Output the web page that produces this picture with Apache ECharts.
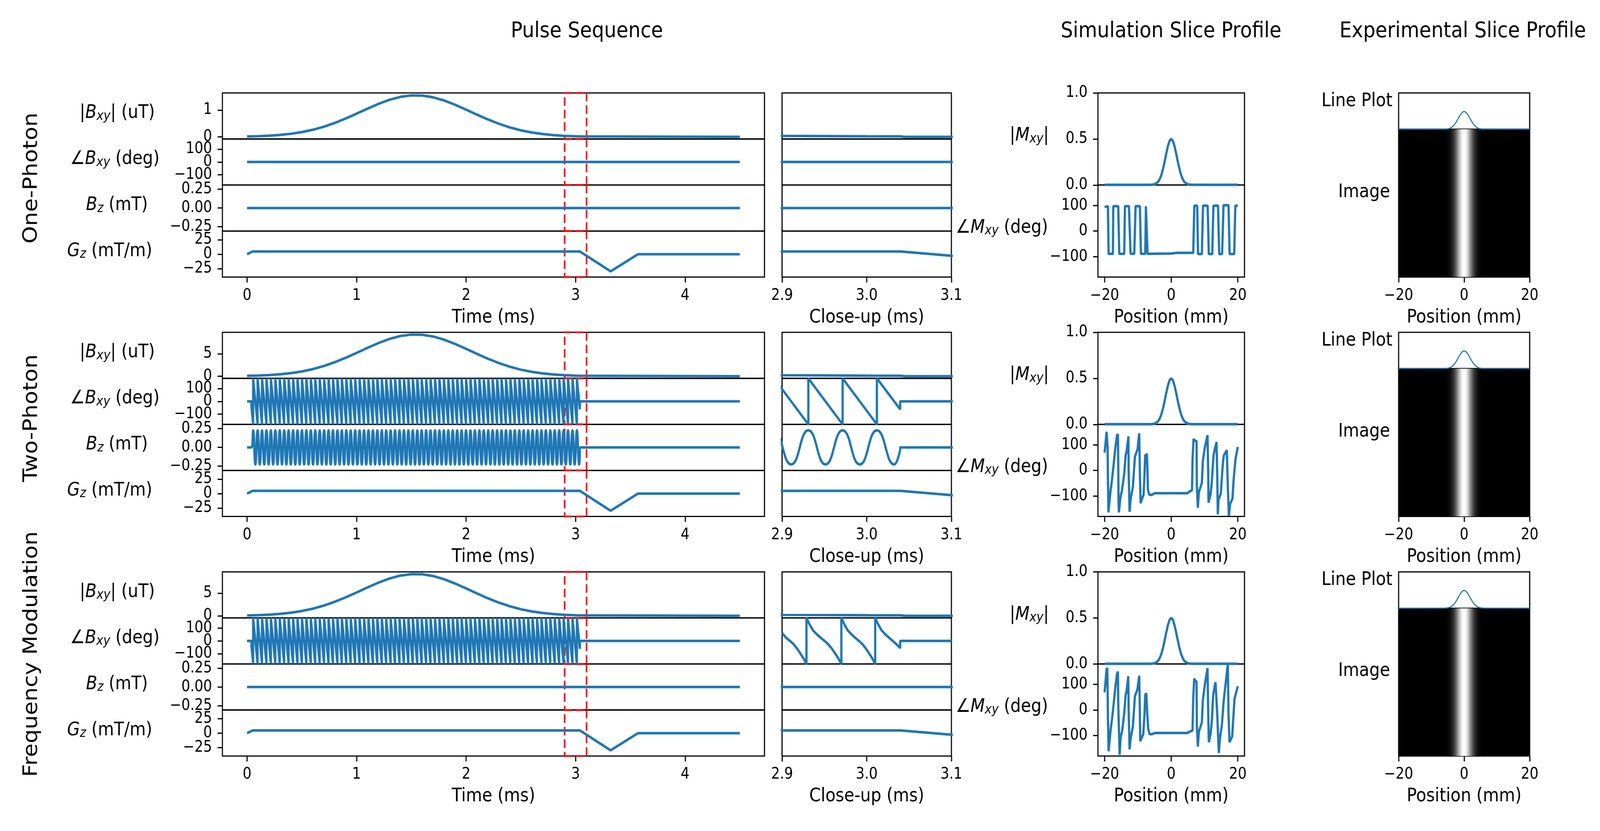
<!DOCTYPE html>
<html>
<head>
<meta charset="utf-8">
<title>Pulse sequences and slice profiles</title>
<script src="https://cdn.jsdelivr.net/npm/echarts@6.0.0/dist/echarts.min.js"></script>
<style>
html,body{margin:0;padding:0;background:#fff;overflow:hidden;}
#chart{width:4640px;height:2128px;transform-origin:0 0;}
</style>
</head>
<body>
<div id="chart"></div>
<script>
// ================= DATA =================
const rowNames = ['One-Photon', 'Two-Photon', 'Frequency Modulation'];
const columnTitles = ['Pulse Sequence', 'Simulation Slice Profile', 'Experimental Slice Profile'];
const axisNames = { time: 'Time (ms)', close: 'Close-up (ms)', pos: 'Position (mm)' };

// tick values
const timeTicks = [0, 1, 2, 3, 4];
const closeTicks = [2.9, 3.0, 3.1];
const posTicks = [-20, 0, 20];
const magTicksOne = [0, 1];
const magTicksTwo = [0, 5];
const phaseTicks = [-100, 0, 100];
const bzTicks = [-0.25, 0, 0.25];
const gzTicks = [-25, 0, 25];
const mxyTicks = [0, 0.5, 1.0];

// close-up window (ms)
const closeWindow = [2.9, 3.1];

// RF magnitude |Bxy| (uT)
const pulseTimes = [0, 0.1, 0.2, 0.3, 0.4, 0.5, 0.6, 0.7, 0.8, 0.9, 1.0, 1.1, 1.2, 1.3, 1.4, 1.5, 1.6, 1.7, 1.8, 1.9, 2.0, 2.1, 2.2, 2.3, 2.4, 2.5, 2.6, 2.7, 2.8, 2.9, 3.0, 3.04, 3.045, 4.5];
const bxyOne = [0.0135, 0.0245, 0.043, 0.072, 0.115, 0.178, 0.265, 0.378, 0.518, 0.684, 0.865, 1.052, 1.231, 1.381, 1.491, 1.545, 1.539, 1.473, 1.355, 1.197, 1.015, 0.828, 0.649, 0.488, 0.353, 0.245, 0.164, 0.105, 0.065, 0.038, 0.022, 0.017, 0, 0];
const bxyTwo = [0.081, 0.147, 0.257, 0.43, 0.691, 1.07, 1.59, 2.27, 3.11, 4.10, 5.19, 6.31, 7.38, 8.29, 8.95, 9.27, 9.23, 8.84, 8.13, 7.18, 6.09, 4.97, 3.89, 2.93, 2.12, 1.47, 0.983, 0.631, 0.389, 0.23, 0.131, 0.103, 0, 0];
const bxyFM = [0.08, 0.145, 0.254, 0.425, 0.684, 1.06, 1.57, 2.24, 3.08, 4.06, 5.13, 6.25, 7.30, 8.20, 8.85, 9.17, 9.14, 8.74, 8.04, 7.10, 6.03, 4.91, 3.85, 2.90, 2.10, 1.45, 0.972, 0.624, 0.385, 0.227, 0.13, 0.102, 0, 0];

// slice gradient Gz (mT/m)
const gzTimes = [0, 0.05, 3.04, 3.32, 3.57, 4.5];
const gzValues = [0, 4.6, 4.6, -29.6, 0, 0];

// flat zero traces
const flatTimes = [0, 4.5];
const flatValues = [0, 0];

// modulation: phase wraps (= Bz maxima) and Bz minima (ms)
const rfStart = 0.04, rfStop = 3.0395;
const phaseWrap = 180;
const phaseStartValue = -42, phaseStopValue = -62;
const bzAmplitude = 0.227, bzStopValue = -0.03;
const cyclePeaks = [0.0555, 0.0960, 0.1365, 0.1770, 0.2175, 0.2580, 0.2985, 0.3390, 0.3795, 0.4200, 0.4605, 0.5010, 0.5415, 0.5820, 0.6225, 0.6630, 0.7035, 0.7440, 0.7845, 0.8250, 0.8655, 0.9060, 0.9465, 0.9870, 1.0275, 1.0680, 1.1085, 1.1490, 1.1895, 1.2300, 1.2705, 1.3110, 1.3515, 1.3920, 1.4325, 1.4730, 1.5135, 1.5540, 1.5945, 1.6350, 1.6755, 1.7160, 1.7565, 1.7970, 1.8375, 1.8780, 1.9185, 1.9590, 1.9995, 2.0400, 2.0805, 2.1210, 2.1615, 2.2020, 2.2425, 2.2830, 2.3235, 2.3640, 2.4045, 2.4450, 2.4855, 2.5260, 2.5665, 2.6070, 2.6475, 2.6880, 2.7285, 2.7690, 2.8095, 2.8500, 2.8905, 2.9310, 2.9715, 3.0120];
const cycleTroughs = [0.07575, 0.11625, 0.15675, 0.19725, 0.23775, 0.27825, 0.31875, 0.35925, 0.39975, 0.44025, 0.48075, 0.52125, 0.56175, 0.60225, 0.64275, 0.68325, 0.72375, 0.76425, 0.80475, 0.84525, 0.88575, 0.92625, 0.96675, 1.00725, 1.04775, 1.08825, 1.12875, 1.16925, 1.20975, 1.25025, 1.29075, 1.33125, 1.37175, 1.41225, 1.45275, 1.49325, 1.53375, 1.57425, 1.61475, 1.65525, 1.69575, 1.73625, 1.77675, 1.81725, 1.85775, 1.89825, 1.93875, 1.97925, 2.01975, 2.06025, 2.10075, 2.14125, 2.18175, 2.22225, 2.26275, 2.30325, 2.34375, 2.38425, 2.42475, 2.46525, 2.50575, 2.54625, 2.58675, 2.62725, 2.66775, 2.70825, 2.74875, 2.78925, 2.82975, 2.87025, 2.91075, 2.95125, 2.99175, 3.03225];

// frequency-modulation phase in close-up window
const fmCloseTimes = [2.9, 2.9047, 2.9094, 2.9134, 2.9175, 2.9219, 2.9256, 2.9288,
  2.9288, 2.9329, 2.9366, 2.9407, 2.9457, 2.9502, 2.9543, 2.9585, 2.963, 2.9667, 2.970,
  2.970, 2.974, 2.9776, 2.9816, 2.9864, 2.9908, 2.9948, 2.9988, 3.0032, 3.0068, 3.010,
  3.010, 3.014, 3.0176, 3.0216, 3.0264, 3.0308, 3.0348, 3.0395, 3.0395, 3.1];
const fmClosePhase = [62, 25, 0, -24, -58, -101, -140, -180,
  180, 124, 82, 54, 25, 0, -24, -58, -101, -140, -180,
  180, 124, 82, 54, 25, 0, -24, -58, -101, -140, -180,
  180, 124, 82, 54, 25, 0, -24, -56, 0, 0];

// simulated slice profile
const simPos = [-20, -6, -5, -4, -3.5, -3, -2.5, -2, -1.5, -1, -0.5, 0, 0.5, 1, 1.5, 2, 2.5, 3, 3.5, 4, 5, 6, 20];
const simMag = [0.002, 0.002, 0.007, 0.031, 0.06, 0.105, 0.17, 0.25, 0.339, 0.421, 0.479, 0.5, 0.479, 0.421, 0.339, 0.25, 0.17, 0.105, 0.06, 0.031, 0.007, 0.002, 0.002];
const simPhaseOne = [[-20, 94], [-19.0, 97], [-18.8, -89], [-17.5, -89], [-17.4, 97], [-15.9, 97], [-15.6, -89], [-14.1, -89], [-13.9, 97], [-12.7, 97], [-12.2, -89], [-11.1, -89], [-10.7, 97], [-9.4, 97], [-9.1, -89], [-7.8, -89], [-7.6, 97], [-7.1, -89], [-6.9, -88], [0, -88], [1.5, -85.5], [6.6, -85.5], [6.94, 99], [7.8, 99], [8.06, -90], [9.2, -90], [9.55, 99], [10.94, 99], [11.28, -90], [12.33, -90], [12.67, 99], [14.06, 99], [14.4, -90], [15.28, -90], [15.7, 101], [17.19, 101], [17.53, -90], [18.92, -90], [19.24, 99], [20, 99]];
const simPhaseTwo = [[-20, 70], [-19.9, 69], [-19.4, 151], [-19.2, 154], [-19.1, 90], [-19.0, -28], [-18.85, -164], [-18.2, -79], [-17.7, -28], [-16.8, 85], [-16.3, 136], [-16.0, 142], [-15.9, 28], [-15.8, -131], [-15.7, -164], [-15.3, -110], [-14.8, -79], [-14.1, -13], [-13.7, 59], [-13.4, 74], [-12.85, 133], [-12.8, 8], [-12.5, -162], [-12.15, -110], [-11.5, -64], [-10.9, 54], [-10.2, 79], [-10.1, 85], [-9.6, 145], [-9.4, -13], [-9.2, -128], [-8.3, -95], [-8.0, -13], [-7.8, 59], [-7.3, 64], [-7.1, -13], [-7.0, -74], [-6.6, -95], [-5.9, -96], [-4.9, -89], [0, -89], [4.9, -89], [5.2, -85], [6.25, -77], [6.4, 44], [6.7, 123], [7.1, 116], [7.6, 115], [7.7, -64], [8.0, -146], [8.3, -85], [9.2, -49], [9.5, 38], [10.1, 90], [10.9, 138], [11.1, -13], [11.2, -126], [11.8, -95], [12.2, -44], [12.7, 59], [13.2, 90], [13.6, 111], [13.8, -13], [14.0, -172], [14.2, -115], [14.9, -90], [15.5, 28], [15.8, 59], [16.7, 79], [16.8, 79], [17.0, -64], [17.3, -178], [17.7, -131], [18.4, -110], [18.75, -33], [19.3, 44], [20, 92]];
const simPhaseFM = [[-20, 69], [-19.9, 68], [-19.4, 160], [-19.2, 164], [-19.1, 90], [-19.0, -28], [-18.8, -161], [-18.2, -79], [-17.7, -28], [-16.8, 85], [-16.3, 140], [-16.0, 150], [-15.9, 28], [-15.5, -175], [-15.2, -110], [-14.7, -79], [-14.1, -13], [-13.7, 59], [-13.4, 74], [-12.9, 132], [-12.8, 8], [-12.5, -154], [-12.15, -110], [-11.5, -64], [-10.9, 54], [-10.2, 79], [-10.1, 85], [-9.6, 134], [-9.4, -13], [-9.3, -122], [-8.4, -95], [-8.0, -13], [-7.8, 59], [-7.5, 66], [-7.2, -13], [-6.9, -74], [-6.5, -94], [-5.9, -95], [-4.9, -90], [0, -90], [4.9, -90], [5.3, -86], [6.4, -80], [6.6, 44], [6.9, 123], [7.2, 115], [7.6, 110], [7.7, -64], [8.0, -143], [8.3, -85], [9.2, -49], [9.5, 38], [10.1, 100], [10.9, 164], [11.1, -13], [11.3, -126], [11.8, -95], [12.2, -44], [12.6, 59], [13.0, 90], [13.3, 109], [13.8, -13], [14.3, -168], [14.6, -115], [15.2, -60], [15.7, 28], [16.3, 100], [17.0, 180], [17.2, -20], [17.5, -126], [18.3, -104], [19.0, 44], [20, 93]];

// experimental slice profile
const expLinePos = [-20, -6, -5.5, -5, -4.5, -4, -3.5, -3, -2.5, -2, -1.5, -1, -0.5, 0, 0.5, 1, 1.5, 2, 2.5, 3, 3.5, 4, 4.5, 5, 5.5, 6, 20];
const expLineVal = [0, 0.002, 0.005, 0.010, 0.022, 0.042, 0.074, 0.122, 0.187, 0.264, 0.346, 0.42, 0.471, 0.49, 0.471, 0.42, 0.346, 0.264, 0.187, 0.122, 0.074, 0.042, 0.022, 0.010, 0.005, 0.002, 0];
const expImgPos = [-6, -5.5, -5, -4.5, -4, -3.5, -3, -2.5, -2, -1.5, -1, -0.5, 0, 0.5, 1, 1.5, 2, 2.5, 3, 3.5, 4, 4.5, 5, 5.5, 6];
const expImgVal = [0.004, 0.009, 0.021, 0.044, 0.085, 0.151, 0.249, 0.381, 0.539, 0.707, 0.857, 0.962, 1, 0.962, 0.857, 0.707, 0.539, 0.381, 0.249, 0.151, 0.085, 0.044, 0.021, 0.009, 0.004];

// ================= BUILD =================
const FONT = 'DejaVu Sans';
const BLUE = '#1f77b4';
const LW = 6.5;
const SPINE = 3.2;
const FIG_W = 4640, FIG_H = 2128;

const L = {
  rowTop: [238, 851, 1464.5],
  rowH: 471.5,
  main: [645, 1572],
  close: [2268, 491],
  sim: [3184, 425],
  exp: [4056, 380],
  expLineH: 93
};

const zip = (a, b) => a.map((v, i) => [v, b[i]]);
const fmt = d => v => {
  const s = (Math.abs(v) < 1e-9 ? 0 : v).toFixed(d);
  return s.replace('-', '\u2212');
};

const rich = {
  n: { fontFamily: FONT, fontSize: 48, color: '#000', lineHeight: 50 },
  i: { fontFamily: FONT, fontSize: 48, fontStyle: 'italic', color: '#000', lineHeight: 50 },
  s: { fontFamily: FONT, fontSize: 34, fontStyle: 'italic', color: '#000', lineHeight: 20, verticalAlign: 'bottom' }
};

const grids = [], xAxes = [], yAxes = [], series = [];

function axisCfg(dim, gi, a) {
  const show = !!(a.ticks && a.ticks.length);
  const cfg = {
    type: 'value', gridIndex: gi, min: a.min, max: a.max,
    position: dim === 'x' ? 'bottom' : 'left', offset: 0,
    axisLine: { show: false, onZero: false }, splitLine: { show: false },
    axisTick: { show: show, length: 14, lineStyle: { color: '#000', width: SPINE }, customValues: a.ticks || [] },
    axisLabel: { show: show, customValues: a.ticks || [], formatter: a.fmt || fmt(0), hideOverlap: false,
      showMinLabel: true, showMaxLabel: true,
      margin: dim === 'x' ? 28 : 30, fontSize: 40, color: '#000', fontFamily: FONT }
  };
  if (a.name) {
    cfg.name = a.name;
    cfg.nameLocation = 'middle';
    cfg.nameGap = a.gap;
    if (dim === 'x') {
      cfg.nameTextStyle = { fontSize: 48, fontFamily: FONT, color: '#000' };
    } else {
      cfg.nameRotate = 0;
      cfg.nameTextStyle = { fontSize: 48, fontFamily: FONT, color: '#000', align: a.align || 'center',
        verticalAlign: 'middle', padding: [0, 0, (a.shift || 0) * 2, 0], rich: rich };
    }
  }
  return cfg;
}

// one grid = one matplotlib axes; crowded y ticks are split over two
// coincident left axes so that ECharts keeps every label
function panel(o) {
  const gi = grids.length;
  grids.push({ left: o.left, top: o.top, width: o.width, height: o.height, show: true,
    borderColor: '#000', borderWidth: SPINE, backgroundColor: o.bg || 'transparent' });
  xAxes.push(axisCfg('x', gi, o.x));
  const yi = yAxes.length;
  const ys = o.y;
  if (ys.ticks && ys.ticks.length >= 3) {
    yAxes.push(axisCfg('y', gi, Object.assign({}, ys, { ticks: ys.ticks.filter((_, i) => i % 2 === 0) })));
    yAxes.push(axisCfg('y', gi, { min: ys.min, max: ys.max, fmt: ys.fmt, ticks: ys.ticks.filter((_, i) => i % 2 === 1) }));
  } else {
    yAxes.push(axisCfg('y', gi, ys));
  }
  o.series.forEach(s => series.push(Object.assign({ xAxisIndex: gi, yAxisIndex: yi, animation: false, silent: true }, s)));
}

function line(data, extra) {
  return Object.assign({ type: 'line', data: data, showSymbol: false, symbol: 'none',
    lineStyle: { color: BLUE, width: LW } }, extra || {});
}

function closeBox(yr) {
  return { silent: true,
    itemStyle: { color: 'rgba(0,0,0,0)', borderColor: '#ff0000', borderWidth: 4.5, borderType: [22, 10] },
    data: [[{ xAxis: closeWindow[0], yAxis: yr[0] }, { xAxis: closeWindow[1], yAxis: yr[1] }]] };
}

function wrappedPhase() {
  const d = [[flatTimes[0], 0], [rfStart, 0], [rfStart, phaseStartValue]];
  cyclePeaks.forEach(t => d.push([t, -phaseWrap], [t, phaseWrap]));
  d.push([rfStop, phaseStopValue], [rfStop, 0], [flatTimes[1], 0]);
  return d;
}

const flatData = zip(flatTimes, flatValues);
const gzData = zip(gzTimes, gzValues);
const bzTwoOsc = [[flatTimes[0], 0], [rfStart, 0]];
cyclePeaks.forEach((t, i) => bzTwoOsc.push([t, bzAmplitude], [cycleTroughs[i], -bzAmplitude]));
bzTwoOsc.push([rfStop, bzStopValue]);
const bzTwoTail = [[rfStop, bzStopValue], [rfStop, 0], [flatTimes[1], 0]];

const rows = [
  { mag: bxyOne, magRange: [-0.078, 1.638], magTicks: magTicksOne,
    phase: flatData, phaseClose: flatData, bz: [line(flatData)], simPhase: simPhaseOne },
  { mag: bxyTwo, magRange: [-0.465, 9.765], magTicks: magTicksTwo,
    phase: wrappedPhase(), phaseClose: wrappedPhase(),
    bz: [line(bzTwoOsc, { smooth: 0.5 }), line(bzTwoTail)], simPhase: simPhaseTwo },
  { mag: bxyFM, magRange: [-0.46, 9.66], magTicks: magTicksTwo,
    phase: wrappedPhase(), phaseClose: zip(fmCloseTimes, fmClosePhase), bz: [line(flatData)], simPhase: simPhaseFM }
];

const phaseRange = [-180, 180], bzRange = [-0.307, 0.307], gzRange = [-39.5, 40];
const mainXRange = [-0.225, 4.725], simXRange = [-22, 22], expXRange = [-20, 20];

const mainLabels = [
  { name: '{n||}{i|B}{s|xy}{n||}{n| (uT)}', gap: 305 },
  { name: '{n|\u2220}{i|B}{s|xy}{n| (deg)}', gap: 312 },
  { name: '{i|B}{s|z}{n| (mT)}', gap: 306 },
  { name: '{i|G}{s|z}{n| (mT/m)}', gap: 327 }
];

rows.forEach((r, ri) => {
  const top = L.rowTop[ri];
  const sh = L.rowH / 4;
  const subs = [
    { data: [line(zip(pulseTimes, r.mag))], close: [line(zip(pulseTimes, r.mag))], yr: r.magRange, ticks: r.magTicks, f: fmt(0) },
    { data: [line(r.phase)], close: [line(r.phaseClose)], yr: phaseRange, ticks: phaseTicks, f: fmt(0) },
    { data: r.bz, close: r.bz.map(s => Object.assign({}, s)), yr: bzRange, ticks: bzTicks, f: fmt(2) },
    { data: [line(gzData)], close: [line(gzData)], yr: gzRange, ticks: gzTicks, f: fmt(0) }
  ];
  subs.forEach((s, k) => {
    const last = k === 3;
    const mainSeries = s.data.map((ser, j) => j === 0 ? Object.assign({}, ser, { markArea: closeBox(s.yr) }) : ser);
    panel({
      left: L.main[0], top: top + k * sh, width: L.main[1], height: sh,
      x: { min: mainXRange[0], max: mainXRange[1], ticks: last ? timeTicks : null, fmt: fmt(0),
        name: last ? axisNames.time : null, gap: 80 },
      y: { min: s.yr[0], max: s.yr[1], ticks: s.ticks, fmt: s.f, name: mainLabels[k].name, gap: mainLabels[k].gap, shift: 7 },
      series: mainSeries
    });
    panel({
      left: L.close[0], top: top + k * sh, width: L.close[1], height: sh,
      x: { min: closeWindow[0], max: closeWindow[1], ticks: last ? closeTicks : null, fmt: fmt(1),
        name: last ? axisNames.close : null, gap: 80 },
      y: { min: s.yr[0], max: s.yr[1] },
      series: s.close
    });
  });

  // simulation slice profile
  const hh = L.rowH / 2;
  panel({
    left: L.sim[0], top: top, width: L.sim[1], height: hh,
    x: { min: simXRange[0], max: simXRange[1] },
    y: { min: 0, max: 1, ticks: mxyTicks, fmt: fmt(1), name: '{n||}{i|M}{s|xy}{n||}', gap: 199, shift: 8 },
    series: [line(zip(simPos, simMag))]
  });
  panel({
    left: L.sim[0], top: top + hh, width: L.sim[1], height: L.rowH - hh,
    x: { min: simXRange[0], max: simXRange[1], ticks: posTicks, fmt: fmt(0), name: axisNames.pos, gap: 80 },
    y: { min: phaseRange[0], max: phaseRange[1], ticks: phaseTicks, fmt: fmt(0),
      name: '{n|\u2220}{i|M}{s|xy}{n| (deg)}', gap: 271, shift: 8 },
    series: [line(r.simPhase)]
  });

  // experimental slice profile: image first, then line plot
  const halfCell = (expImgPos[1] - expImgPos[0]) / 2;
  panel({
    left: L.exp[0], top: top + L.expLineH, width: L.exp[1], height: L.rowH - L.expLineH, bg: '#000',
    x: { min: expXRange[0], max: expXRange[1], ticks: posTicks, fmt: fmt(0), name: axisNames.pos, gap: 80 },
    y: { min: 0, max: 1, name: '{n|Image}', gap: 25, align: 'right', shift: 28 },
    series: [{
      type: 'custom', data: zip(expImgPos, expImgVal), clip: true,
      renderItem: (params, api) => {
        const x = api.value(0), v = api.value(1);
        const p0 = api.coord([x - halfCell, 1]);
        const p1 = api.coord([x + halfCell, 0]);
        const g = Math.round(v * 255);
        return { type: 'rect', shape: { x: p0[0] - 0.5, y: p0[1], width: p1[0] - p0[0] + 1, height: p1[1] - p0[1] },
          style: { fill: 'rgb(' + g + ',' + g + ',' + g + ')' } };
      }
    }]
  });
  panel({
    left: L.exp[0], top: top, width: L.exp[1], height: L.expLineH,
    x: { min: expXRange[0], max: expXRange[1] },
    y: { min: 0, max: 1, name: '{n|Line Plot}', gap: 18, align: 'right', shift: 25 },
    series: [line(zip(expLinePos, expLineVal), { lineStyle: { color: BLUE, width: 3 } })]
  });
});

// free texts
const graphics = [];
const titleX = [1702, 3396, 4242];
columnTitles.forEach((t, i) => graphics.push({ type: 'text', x: titleX[i], y: 80,
  style: { text: t, fontSize: 56, fontFamily: FONT, fill: '#000', align: 'center', verticalAlign: 'middle' } }));
const rowLabelY = [456, 1071, 1675];
rowNames.forEach((t, i) => graphics.push({ type: 'text', x: 92, y: rowLabelY[i], rotation: Math.PI / 2,
  style: { text: t, fontSize: 57, fontFamily: FONT, fill: '#000', align: 'center', verticalAlign: 'middle' } }));

// fit the 4640x2128 figure into the actual window
const el = document.getElementById('chart');
const sx = Math.min(1, window.innerWidth / FIG_W), sy = Math.min(1, window.innerHeight / FIG_H);
el.style.transform = 'scale(' + sx + ',' + sy + ')';

const chart = echarts.init(el, null, { width: FIG_W, height: FIG_H });
chart.setOption({
  backgroundColor: '#fff',
  animation: false,
  textStyle: { fontFamily: FONT },
  grid: grids, xAxis: xAxes, yAxis: yAxes, series: series,
  graphic: graphics
});
</script>
</body>
</html>
